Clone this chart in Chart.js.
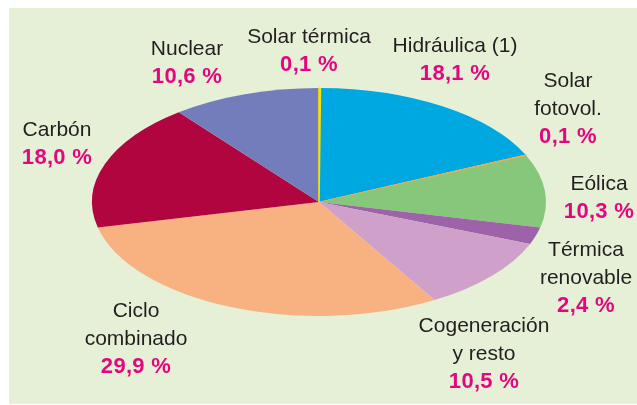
<!DOCTYPE html>
<html>
<head>
<meta charset="utf-8">
<script src="https://cdn.jsdelivr.net/npm/chart.js@4"></script>
<style>
  html, body { margin: 0; padding: 0; background: #ffffff; overflow: hidden; }
  #wrap { position: relative; width: 637px; height: 405px; }
  #bg { position: absolute; left: 9px; top: 8px; width: 628px; height: 396px; background: #e5f0d7; }
  canvas { position: absolute; left: 0; top: 0; }
  .lbl { position: absolute; transform: translateX(-50%); text-align: center; white-space: nowrap;
         font-family: "Liberation Sans", Arial, sans-serif; font-size: 21px; line-height: 28px; color: #231f20; }
  .lbl .pct { color: #e3077f; font-weight: bold; font-size: 22px; letter-spacing: 0.3px; }
</style>
</head>
<body>
<div id="wrap">
  <div id="bg"></div>
  <canvas id="c" width="637" height="405"></canvas>
</div>
<script>
// Data
const categories = [
  ["Solar térmica"],
  ["Hidráulica (1)"],
  ["Solar", "fotovol."],
  ["Eólica"],
  ["Térmica", "renovable"],
  ["Cogeneración", "y resto"],
  ["Ciclo", "combinado"],
  ["Carbón"],
  ["Nuclear"]
];
const shares = [0.1, 18.1, 0.1, 10.3, 2.4, 10.5, 29.9, 18.0, 10.6];
const sliceColors = ["#f5e400", "#00a8e1", "#f3a847", "#86c77b", "#9d62a8", "#cfa0c9", "#f8b282", "#b0053e", "#737dbb"];

// Label placement (centre x, first line centre y)
const labelPos = [
  [309, 36], [455, 45], [568, 80], [599, 183], [586, 249],
  [484, 325], [136, 310], [57, 129], [187, 48]
];

const squash = {
  id: 'squash',
  beforeDatasetsDraw(chart) {
    const arc = chart.getDatasetMeta(0).data[0];
    const ctx = chart.ctx;
    ctx.save();
    ctx.translate(arc.x, arc.y);
    ctx.scale(1, 114 / 227);
    ctx.translate(-arc.x, -arc.y);
  },
  afterDatasetsDraw(chart) {
    // re-draw the very thin slices on top with a thin outline of their own colour
    const meta = chart.getDatasetMeta(0);
    shares.forEach((v, i) => {
      if (v < 0.5) {
        const el = meta.data[i];
        const o = el.options;
        const saved = { bw: o.borderWidth, bc: o.borderColor };
        o.borderWidth = 1.6;
        o.borderColor = sliceColors[i];
        el.draw(chart.ctx);
        o.borderWidth = saved.bw;
        o.borderColor = saved.bc;
      }
    });
    chart.ctx.restore();
  }
};

new Chart(document.getElementById('c'), {
  type: 'pie',
  data: {
    labels: categories.map(c => c.join(' ')),
    datasets: [{
      data: shares,
      backgroundColor: sliceColors,
      borderWidth: 0
    }]
  },
  options: {
    responsive: false,
    animation: false,
    radius: 227,
    rotation: 0,
    layout: { padding: { left: 1, right: 0, top: 0, bottom: 1 } },
    plugins: { legend: { display: false }, tooltip: { enabled: false } },
    events: []
  },
  plugins: [squash]
});

const wrap = document.getElementById('wrap');
categories.forEach((lines, i) => {
  const d = document.createElement('div');
  d.className = 'lbl';
  d.style.left = labelPos[i][0] + 'px';
  d.style.top = (labelPos[i][1] - 14) + 'px';
  lines.forEach(t => {
    const s = document.createElement('div');
    s.textContent = t;
    d.appendChild(s);
  });
  const p = document.createElement('div');
  p.className = 'pct';
  p.textContent = shares[i].toFixed(1).replace('.', ',') + ' %';
  d.appendChild(p);
  wrap.appendChild(d);
});
</script>
</body>
</html>
